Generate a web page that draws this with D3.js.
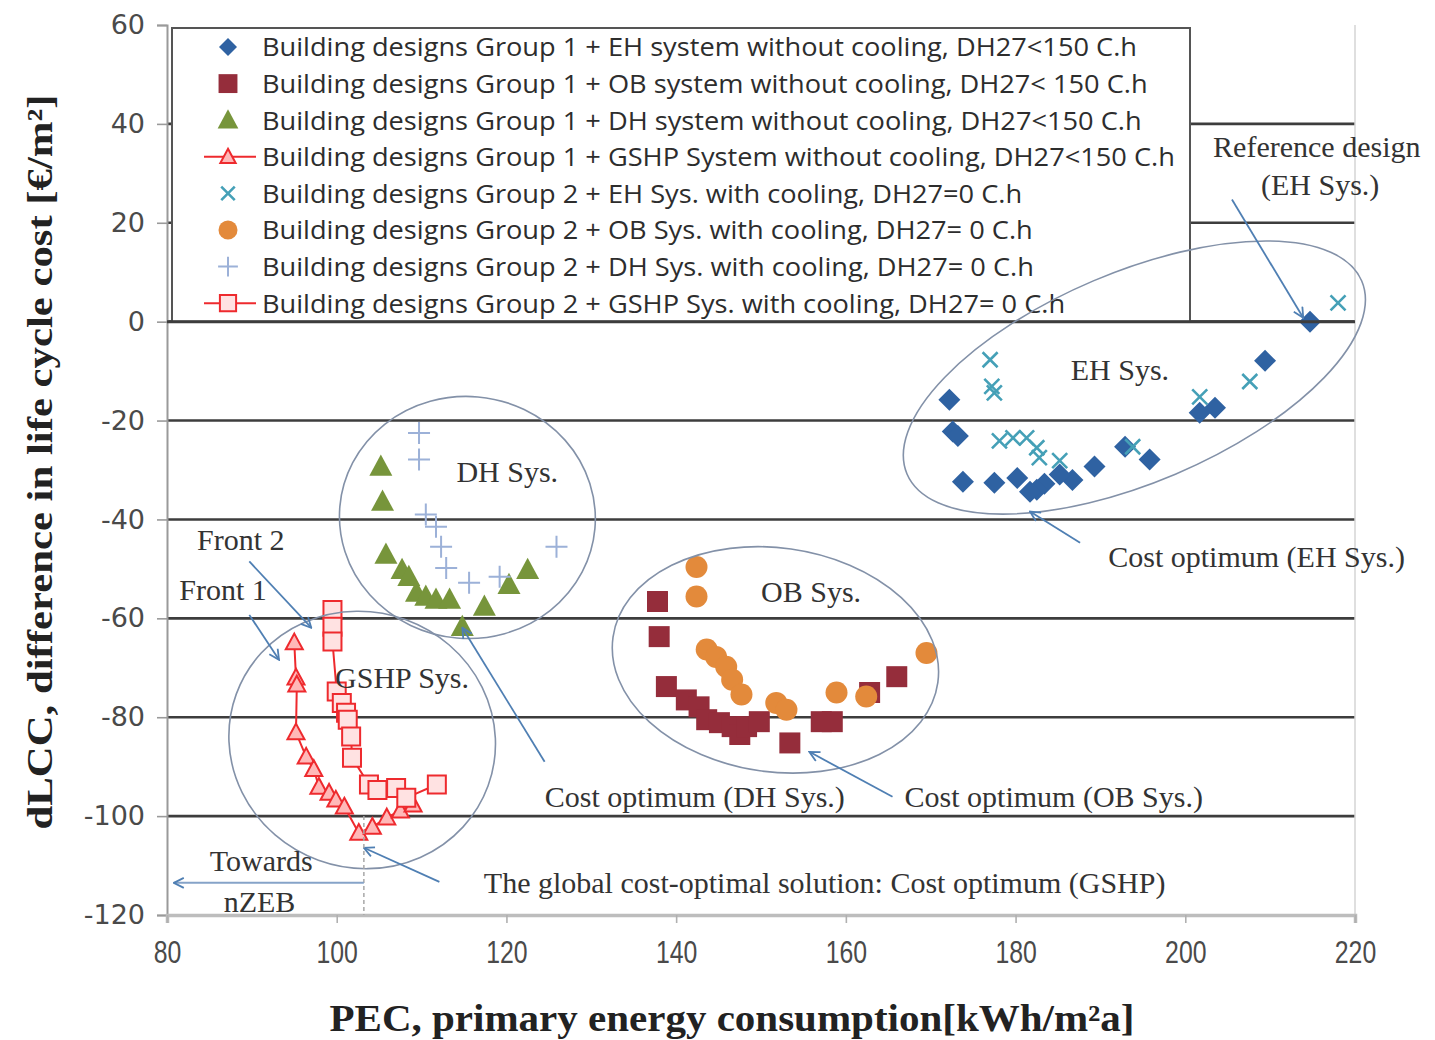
<!DOCTYPE html>
<html>
<head>
<meta charset="utf-8">
<script src="https://cdn.jsdelivr.net/npm/d3@7"></script>
<style>
  body { margin: 0; background: #fff; }
  svg { display: block; }
</style>
</head>
<body>
<svg id="chart" width="1435" height="1040"></svg>
<script>
// ---- data: PEC [kWh/m²a] vs dLCC [€/m²] ----
const xTicks = [80, 100, 120, 140, 160, 180, 200, 220];
const yTicks = [60, 40, 20, 0, -20, -40, -60, -80, -100, -120];

const legendLabels = [
  "Building designs Group 1 + EH system without cooling, DH27<150 C.h",
  "Building designs Group 1 + OB system without cooling, DH27< 150 C.h",
  "Building designs Group 1 + DH system without cooling, DH27<150 C.h",
  "Building designs Group 1 + GSHP System without cooling, DH27<150 C.h",
  "Building designs Group 2 + EH Sys. with cooling, DH27=0 C.h",
  "Building designs Group 2 + OB Sys. with cooling, DH27= 0 C.h",
  "Building designs Group 2 + DH Sys. with cooling, DH27= 0 C.h",
  "Building designs Group 2 + GSHP Sys. with cooling, DH27= 0 C.h"
];

// Group 1 + EH
const ehG1 = [[214.7,0],[209.4,-7.9],[203.5,-17.4],[201.7,-18.4],[195.8,-27.9],[192.9,-25.3],
  [189.3,-29.3],[186.7,-32.0],[185.2,-30.9],[183.4,-32.8],[182.5,-34.0],[181.7,-34.4],
  [180.2,-31.6],[177.5,-32.6],[173.8,-32.4],[172.6,-22.2],[173.2,-23.1],[172.2,-15.8]];
// Group 1 + OB
const obG1 = [[137.8,-56.6],[138.0,-63.7],[138.85,-73.8],[141.2,-76.5],[142.7,-77.9],[143.6,-80.5],
  [145.1,-81.1],[146.6,-81.9],[147.5,-83.5],[148.3,-81.9],[149.8,-80.9],[153.4,-85.2],
  [157.1,-80.9],[158.4,-80.9],[162.8,-75.0],[166.0,-71.8]];
// Group 1 + DH
const dhG1 = [[105.2,-29.3],[105.4,-36.4],[105.8,-47.1],[107.7,-50.2],[108.5,-51.6],[109.4,-54.8],
  [110.5,-55.6],[111.7,-56.2],[113.3,-56.2],[114.8,-61.7],[117.4,-57.6],[120.3,-53.2],[122.5,-50.2]];
// Group 1 + GSHP (front 1)
const gshpG1 = [[95.0,-64.9],[95.2,-72.0],[95.3,-73.4],[95.2,-83.1],[96.4,-88.0],[97.3,-90.5],
  [97.9,-94.1],[99.1,-95.3],[99.9,-96.7],[100.9,-98.1],[102.6,-103.4],[104.2,-102.2],
  [105.9,-100.3],[107.5,-98.9],[109.0,-97.7]];
// Group 2 + EH
const ehG2 = [[218.0,3.8],[207.6,-12.1],[201.7,-15.2],[193.8,-25.3],[177.0,-7.7],[177.2,-13.1],
  [177.5,-14.4],[178.1,-24.1],[179.7,-23.5],[181.3,-23.5],[182.5,-25.5],[182.8,-27.5],[185.2,-28.1]];
// Group 2 + OB
const obG2 = [[142.4,-49.6],[142.4,-55.6],[143.6,-66.3],[144.7,-67.8],[145.9,-69.8],[146.6,-72.4],
  [147.7,-75.4],[151.8,-77.1],[153.0,-78.5],[158.9,-75.0],[162.4,-75.8],[169.5,-67.0]];
// Group 2 + DH
const dhG2 = [[109.7,-22.5],[109.7,-27.9],[110.5,-39.0],[111.7,-41.5],[112.3,-45.5],[112.9,-49.8],
  [115.6,-52.8],[119.2,-51.6],[125.9,-45.5]];
// Group 2 + GSHP (front 2)
const gshpG2 = [[99.5,-58.3],[99.5,-61.7],[99.5,-64.7],[100.0,-74.8],[100.6,-77.1],[101.1,-79.1],
  [101.3,-80.5],[101.7,-83.9],[101.8,-88.2],[103.8,-93.6],[104.8,-94.7],[107.0,-94.3],
  [108.2,-96.3],[111.8,-93.6]];

// ---- annotations (positions in data units) ----
const groupRings = [
  { cx: 194.0, cy: -11.3, rx: 247, ry: 105, rot: -23 },
  { cx: 151.7, cy: -68.4, rx: 164, ry: 112, rot: 8 },
  { cx: 115.4, cy: -39.6, rx: 128, ry: 121, rot: 5 },
  { cx: 103.0, cy: -84.6, rx: 134, ry: 128, rot: 20 }
];
const notes = [
  { t: "EH Sys.", x: 192.3, y: -11.7 },
  { t: "DH Sys.", x: 120.1, y: -32.4 },
  { t: "OB Sys.", x: 155.9, y: -56.6 },
  { t: "GSHP Sys.", x: 107.7, y: -74.0 },
  { t: "Reference design", x: 215.5, y: 33.4 },
  { t: "(EH Sys.)", x: 215.9, y: 25.7 },
  { t: "Cost optimum (EH Sys.)", x: 208.4, y: -49.6 },
  { t: "Cost optimum (DH Sys.)", x: 142.2, y: -98.1 },
  { t: "Cost optimum (OB Sys.)", x: 184.5, y: -98.1 },
  { t: "The global cost-optimal solution: Cost optimum (GSHP)", x: 157.5, y: -115.5 },
  { t: "Towards", x: 91.1, y: -111.2 },
  { t: "nZEB", x: 90.9, y: -119.3 },
  { t: "Front 2", x: 88.7, y: -46.1 },
  { t: "Front 1", x: 86.6, y: -56.2 }
];
const pointers = [
  { from: [205.5, 24.7], to: [213.9, 0.8] },
  { from: [187.6, -44.7], to: [181.7, -38.4] },
  { from: [124.5, -89.0], to: [114.8, -61.9] },
  { from: [165.5, -96.1], to: [155.7, -87.0] },
  { from: [112.1, -113.3], to: [103.2, -106.4] },
  { from: [89.7, -48.5], to: [97.0, -61.9] },
  { from: [89.7, -59.3], to: [93.2, -68.4] }
];
const nzebArrow = { from: [103.2, -113.5], to: [80.8, -113.5] };
const nzebMark = 103.2;

// ---- layout ----
const svg = d3.select("#chart");
const plot = { left: 167, right: 1355, top: 25, bottom: 915 };
const x = d3.scaleLinear().domain([80, 220]).range([plot.left, plot.right]);
const y = d3.scaleLinear().domain([-120, 60]).range([plot.bottom, plot.top]);

const serif = "'Liberation Serif', 'Times New Roman', serif";
const legendBox = { x: 172, y: 28, right: 1190 };

// horizontal grid lines
svg.append("g").selectAll("line")
  .data(yTicks.filter(v => v > -120 && v < 60))
  .join("line")
  .attr("x1", x(80)).attr("x2", x(220))
  .attr("y1", d => y(d)).attr("y2", d => y(d))
  .attr("stroke", "#3d3d3d").attr("stroke-width", 2.6);

// right frame edge
svg.append("line")
  .attr("x1", x(220)).attr("x2", x(220)).attr("y1", y(60)).attr("y2", y(-120))
  .attr("stroke", "#d4d4d4").attr("stroke-width", 1.5);

// y axis
const yAxis = svg.append("g")
  .attr("transform", `translate(${plot.left},0)`)
  .call(d3.axisLeft(y).tickValues(yTicks).tickSize(10).tickPadding(12).tickFormat(d3.format("d")));
yAxis.select(".domain").attr("stroke", "#9a9a9a").attr("stroke-width", 2);
yAxis.selectAll(".tick line").attr("stroke", "#9a9a9a").attr("stroke-width", 1.6);
yAxis.selectAll(".tick text")
  .attr("font-family", "'DejaVu Sans', sans-serif").attr("font-size", 27).attr("fill", "#4a4a4a")
  .text(d => d < 0 ? "-" + Math.abs(d) : d);

// x axis
const xAxis = svg.append("g")
  .attr("transform", `translate(0,${plot.bottom})`)
  .call(d3.axisBottom(x).tickValues(xTicks).tickSize(8).tickPadding(0).tickFormat(d3.format("d")));
xAxis.select(".domain").attr("stroke", "#bdbdbd").attr("stroke-width", 3.5);
xAxis.selectAll(".tick line").attr("stroke", "#b0b0b0").attr("stroke-width", 1.6);
xAxis.selectAll(".tick text")
  .attr("font-family", "'Liberation Sans', Arial, sans-serif").attr("font-size", 31)
  .attr("fill", "#4a4a4a").attr("dy", 0)
  .attr("transform", "translate(0,48) scale(0.8,1)")
  .attr("y", 0);

// ---- marker shapes ----
const shapes = {
  diamond: r => `M0,${-r}L${r},0L0,${r}L${-r},0Z`,
  square: s => `M${-s},${-s}H${s}V${s}H${-s}Z`,
  triangle: r => `M0,${-r * 1.05}L${r},${r * 0.8}L${-r},${r * 0.8}Z`,
  cross: r => `M${-r},${-r}L${r},${r}M${-r},${r}L${r},${-r}`,
  plus: r => `M${-r},0H${r}M0,${-r}V${r}`,
  circle: r => `M${r},0A${r},${r} 0 1 1 ${-r},0A${r},${r} 0 1 1 ${r},0Z`
};

const red = "#ee2a2e";
const seriesStyles = [
  { data: ehG1,  shape: "diamond",  size: 11,  fill: "#2f62a2", stroke: "none", sw: 0 },
  { data: obG1,  shape: "square",   size: 10.5, fill: "#952d3b", stroke: "none", sw: 0 },
  { data: dhG1,  shape: "triangle", size: 11.5, fill: "#77953b", stroke: "none", sw: 0 },
  { data: gshpG1, shape: "triangle", size: 8.5, fill: "#ffb8b8", stroke: red, sw: 2, line: true },
  { data: ehG2,  shape: "cross",    size: 7.5, fill: "none", stroke: "#45a0b7", sw: 2.6 },
  { data: obG2,  shape: "circle",   size: 11,  fill: "#e38a3b", stroke: "none", sw: 0 },
  { data: dhG2,  shape: "plus",     size: 11,  fill: "none", stroke: "#9cb1d8", sw: 2 },
  { data: gshpG2, shape: "square",  size: 9,   fill: "#ffe2e2", stroke: red, sw: 2, line: true }
];

const lineGen = d3.line().x(d => x(d[0])).y(d => y(d[1]));

// the GSHP fronts are joined by lines
seriesStyles.filter(s => s.line).forEach(s => {
  svg.append("path").attr("d", lineGen(s.data))
    .attr("fill", "none").attr("stroke", red).attr("stroke-width", 2);
});

function drawMarkers(g, s, pts) {
  g.selectAll("path.m").data(pts).join("path").attr("class", "m")
    .attr("transform", d => `translate(${d[0]},${d[1]})`)
    .attr("d", shapes[s.shape](s.size))
    .attr("fill", s.fill).attr("stroke", s.stroke).attr("stroke-width", s.sw);
}

seriesStyles.forEach(s => {
  drawMarkers(svg.append("g"), s, s.data.map(d => [x(d[0]), y(d[1])]));
});

// ---- legend ----
const legendBottom = y(0);
svg.append("rect")
  .attr("x", legendBox.x).attr("y", legendBox.y)
  .attr("width", legendBox.right - legendBox.x).attr("height", legendBottom - legendBox.y)
  .attr("fill", "#fff").attr("stroke", "#555").attr("stroke-width", 2);
svg.append("line")
  .attr("x1", x(80)).attr("x2", x(220)).attr("y1", y(0)).attr("y2", y(0))
  .attr("stroke", "#3d3d3d").attr("stroke-width", 3);

const rowGap = 36.6, firstRow = 47, markX = 228, textX = 262;
const lg = svg.append("g");
seriesStyles.forEach((s, i) => {
  const cy = firstRow + i * rowGap;
  if (s.line) {
    lg.append("line").attr("x1", markX - 24).attr("x2", markX + 28)
      .attr("y1", cy).attr("y2", cy).attr("stroke", red).attr("stroke-width", 2);
  }
  const ls = Object.assign({}, s, { size: s.shape === "diamond" ? 9 : s.shape === "circle" ? 9.5 : s.size * 0.9 });
  drawMarkers(lg.append("g"), ls, [[markX, cy]]);
});
const legendTexts = lg.selectAll("text.lt").data(legendLabels).join("text").attr("class", "lt")
  .attr("x", textX).attr("y", (d, i) => firstRow + i * rowGap)
  .attr("dy", "0.36em")
  .attr("font-family", "'Open Sans', sans-serif").attr("font-size", 26).attr("fill", "#2d2d2d")
  .text(d => d);
// condensed lettering: scale every row by the same factor
const natural = legendTexts.nodes().map(n => n.getComputedTextLength());
const k = 875 / natural[0];
legendTexts.attr("textLength", (d, i) => natural[i] * k).attr("lengthAdjust", "spacingAndGlyphs");

// ---- group rings ----
svg.append("g").selectAll("ellipse").data(groupRings).join("ellipse")
  .attr("cx", 0).attr("cy", 0).attr("rx", d => d.rx).attr("ry", d => d.ry)
  .attr("transform", d => `translate(${x(d.cx)},${y(d.cy)}) rotate(${d.rot})`)
  .attr("fill", "none").attr("stroke", "#8391a8").attr("stroke-width", 1.6);

// ---- pointers ----
const defs = svg.append("defs");
defs.append("marker").attr("id", "head").attr("viewBox", "0 0 12 12")
  .attr("refX", 11).attr("refY", 6).attr("markerWidth", 12).attr("markerHeight", 12)
  .attr("markerUnits", "userSpaceOnUse").attr("orient", "auto")
  .append("path").attr("d", "M1,1L11,6L1,11").attr("fill", "none")
  .attr("stroke", "#4f7fb3").attr("stroke-width", 1.8);

svg.append("g").selectAll("line").data(pointers).join("line")
  .attr("x1", d => x(d.from[0])).attr("y1", d => y(d.from[1]))
  .attr("x2", d => x(d.to[0])).attr("y2", d => y(d.to[1]))
  .attr("stroke", "#4f7fb3").attr("stroke-width", 1.8).attr("marker-end", "url(#head)");

svg.append("line")
  .attr("x1", x(nzebMark)).attr("x2", x(nzebMark)).attr("y1", y(-100)).attr("y2", y(-120))
  .attr("stroke", "#a8a8a8").attr("stroke-width", 1.5).attr("stroke-dasharray", "4,3");
svg.append("line")
  .attr("x1", x(nzebArrow.from[0])).attr("y1", y(nzebArrow.from[1]))
  .attr("x2", x(nzebArrow.to[0])).attr("y2", y(nzebArrow.to[1]))
  .attr("stroke", "#86a3c8").attr("stroke-width", 2).attr("marker-end", "url(#head)");

// ---- notes ----
svg.append("g").selectAll("text").data(notes).join("text")
  .attr("x", d => x(d.x)).attr("y", d => y(d.y))
  .attr("text-anchor", "middle")
  .attr("font-family", serif).attr("font-size", 30).attr("fill", "#333")
  .text(d => d.t);

// ---- axis titles ----
svg.append("text")
  .attr("transform", `translate(52,462) rotate(-90)`)
  .attr("text-anchor", "middle")
  .attr("font-family", serif).attr("font-weight", "bold").attr("font-size", 36).attr("fill", "#222")
  .attr("textLength", 735).attr("lengthAdjust", "spacingAndGlyphs")
  .text("dLCC, difference in life cycle cost [€/m²]");

svg.append("text")
  .attr("x", 732).attr("y", 1031)
  .attr("text-anchor", "middle")
  .attr("font-family", serif).attr("font-weight", "bold").attr("font-size", 38).attr("fill", "#222")
  .attr("textLength", 805).attr("lengthAdjust", "spacingAndGlyphs")
  .text("PEC, primary energy consumption[kWh/m²a]");
</script>
</body>
</html>
